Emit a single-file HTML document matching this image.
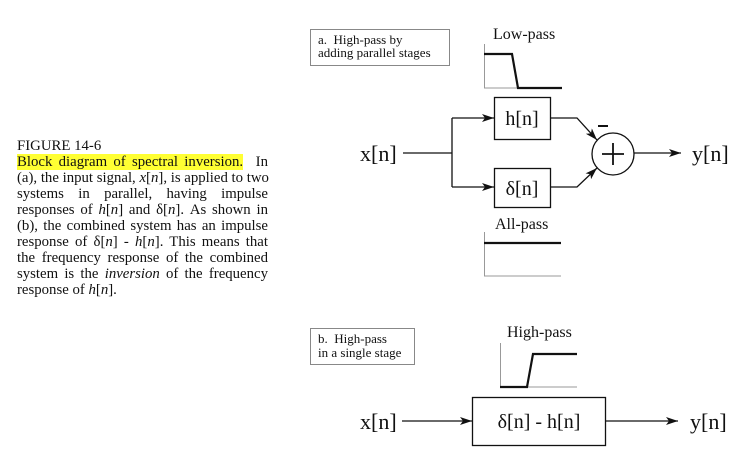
<!DOCTYPE html>
<html><head><meta charset="utf-8"><style>
body{margin:0;background:#fff;width:752px;height:471px;overflow:hidden;position:relative;font-family:"Liberation Serif",serif}
#cap{position:absolute;left:17px;top:138px;width:251px;font-size:14.8px;line-height:16px;color:#111}
#cap div{text-align:justify;text-align-last:justify;white-space:nowrap}
#cap div.l{text-align-last:left}
.hl{background:#ffff33}
svg{position:absolute;left:0;top:0}
svg text{font-family:"Liberation Serif",serif;fill:#111}
</style></head><body>
<div id="cap">
<div class="l">FIGURE 14-6</div>
<div><span class="hl">Block diagram of spectral inversion.</span>&nbsp; In</div>
<div>(a), the input signal, <i>x</i>[<i>n</i>], is applied to two</div>
<div>systems in parallel, having impulse</div>
<div>responses of <i>h</i>[<i>n</i>] and δ[<i>n</i>]. As shown in</div>
<div>(b), the combined system has an impulse</div>
<div>response of δ[<i>n</i>] - <i>h</i>[<i>n</i>]. This means that</div>
<div>the frequency response of the combined</div>
<div>system is the <i>inversion</i> of the frequency</div>
<div class="l">response of <i>h</i>[<i>n</i>].</div>
</div>
<svg width="752" height="471">
<defs><marker id="ar" viewBox="0 0 12 8" refX="12" refY="4" markerWidth="12" markerHeight="8" markerUnits="userSpaceOnUse" orient="auto"><path d="M0,0 L12,4 L0,8 L3,4 Z" fill="#111"/></marker></defs>
<g stroke="#111" fill="none" stroke-width="1.3">
<rect x="310.5" y="29.5" width="139" height="36" stroke="#888" stroke-width="1"/>
<rect x="310.5" y="328.5" width="104" height="36" stroke="#888" stroke-width="1"/>
<path d="M484.5,44 V88 H562" stroke="#999" stroke-width="1"/>
<path d="M484,54 H512 L518,88 H562" stroke-width="2.2"/>
<path d="M484.5,232 V276 H561" stroke="#999" stroke-width="1"/>
<path d="M484,243 H561" stroke-width="2.2"/>
<path d="M500.5,343 V387 H577" stroke="#999" stroke-width="1"/>
<path d="M500,387 H527 L533,354 H577" stroke-width="2.2"/>
<rect x="494.5" y="97.5" width="56" height="42"/>
<rect x="494.5" y="168.5" width="56" height="39"/>
<path d="M403,153 H452 M452,118 V187"/>
<path d="M452,118 H494" marker-end="url(#ar)"/>
<path d="M452,187 H494" marker-end="url(#ar)"/>
<path d="M550,118 H577 L597,140" marker-end="url(#ar)"/>
<path d="M550,187 H577 L597,168" marker-end="url(#ar)"/>
<circle cx="613" cy="154" r="21"/>
<path d="M602,154 H624 M613,143 V165" stroke-width="1.8"/>
<path d="M598,126 H608" stroke-width="2"/>
<path d="M634,153 H681" marker-end="url(#ar)"/>
<rect x="472.5" y="397.5" width="133" height="48"/>
<path d="M402,421 H472" marker-end="url(#ar)"/>
<path d="M605,421 H678" marker-end="url(#ar)"/>
</g>
<text x="318" y="44" font-size="13">a.&#160; High-pass by</text>
<text x="318" y="57" font-size="13">adding parallel stages</text>
<text x="318" y="343" font-size="13">b.&#160; High-pass</text>
<text x="318" y="357" font-size="13">in a single stage</text>
<text x="493" y="39" font-size="16">Low-pass</text>
<text x="495" y="229" font-size="16">All-pass</text>
<text x="507" y="337" font-size="16">High-pass</text>
<text x="522" y="125" font-size="20" text-anchor="middle">h[n]</text>
<text x="522" y="195" font-size="20" text-anchor="middle">δ[n]</text>
<text x="539" y="428" font-size="20" text-anchor="middle">δ[n] - h[n]</text>
<text x="360" y="161" font-size="22">x[n]</text>
<text x="692" y="161" font-size="22">y[n]</text>
<text x="360" y="429" font-size="22">x[n]</text>
<text x="690" y="429" font-size="22">y[n]</text>
</svg>
</body></html>
